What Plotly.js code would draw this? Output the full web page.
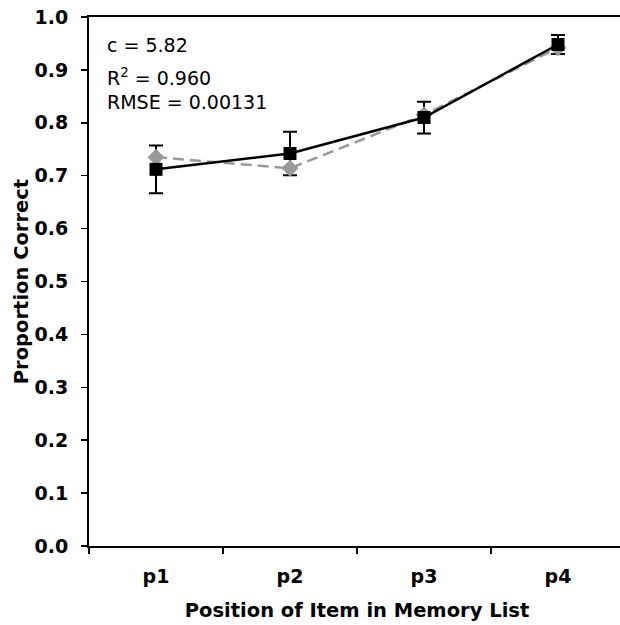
<!DOCTYPE html>
<html>
<head>
<meta charset="utf-8">
<script src="https://cdn.plot.ly/plotly-3.0.1.min.js"></script>
<style>
  html, body { margin: 0; padding: 0; overflow: hidden; background: #fff; }
  #chart { width: 640px; height: 625px; }
</style>
</head>
<body>
<div id="chart"></div>
<script>
// Serial position data: observed proportion correct (with error bars) and model fit
const positions = ['p1', 'p2', 'p3', 'p4'];
const observed = [0.712, 0.742, 0.810, 0.948];
const observedError = [0.045, 0.041, 0.030, 0.018];
const predicted = [0.735, 0.714, 0.815, 0.942];
const fitLines = ['c = 5.82', 'R<sup>2</sup> = 0.960', 'RMSE = 0.00131'];

const FONT = 'DejaVu Sans, Verdana, sans-serif';

const traces = [
  // error bars of the observed data, kept underneath the model markers
  {
    x: positions, y: observed, type: 'scatter', mode: 'markers',
    marker: { size: 1, opacity: 0 },
    error_y: { type: 'data', array: observedError, visible: true, color: '#000', thickness: 2, width: 7 },
    hoverinfo: 'skip', showlegend: false
  },
  // model prediction
  {
    x: positions, y: predicted, type: 'scatter', mode: 'lines+markers',
    line: { color: '#999999', width: 2.5, dash: '11px,6px' },
    marker: { symbol: 'diamond', size: 13, color: '#999999' },
    showlegend: false
  },
  // observed means
  {
    x: positions, y: observed, type: 'scatter', mode: 'lines+markers',
    line: { color: '#000', width: 2.5 },
    marker: { symbol: 'square', size: 13, color: '#000' },
    showlegend: false
  }
];

const annYs = [0.948, 0.887, 0.840];
const annotations = fitLines.map((t, i) => ({
  text: t, xref: 'paper', yref: 'paper', x: 0.029, y: annYs[i],
  xanchor: 'left', yanchor: 'middle', showarrow: false,
  font: { family: FONT, size: 19, color: '#000' }
}));

const layout = {
  width: 640, height: 625,
  margin: { l: 89, r: 15, t: 17, b: 79 },
  paper_bgcolor: '#fff', plot_bgcolor: '#fff',
  font: { family: FONT, color: '#000' },
  xaxis: {
    type: 'category', range: [-0.5, 3.5],
    showline: true, linecolor: '#000', linewidth: 2, mirror: true,
    ticks: 'outside', tickson: 'boundaries', ticklen: 6, tickwidth: 1.5, tickcolor: '#000',
    showgrid: false, zeroline: false,
    tickfont: { family: FONT, size: 19, color: '#000', weight: 'bold' },
    ticklabelstandoff: 12,
    title: { text: '<b>Position of Item in Memory List</b>', font: { family: FONT, size: 19.5, color: '#000' }, standoff: 18 }
  },
  yaxis: {
    range: [0, 1], dtick: 0.1, tickformat: '.1f',
    showline: true, linecolor: '#000', linewidth: 2, mirror: true,
    ticks: 'outside', ticklen: 6, tickwidth: 1.5, tickcolor: '#000',
    showgrid: false, zeroline: false,
    tickfont: { family: FONT, size: 19, color: '#000', weight: 'bold' },
    ticklabelstandoff: 9,
    title: { text: '<b>Proportion Correct</b>', font: { family: FONT, size: 19.5, color: '#000' } }
  },
  annotations: annotations
};

Plotly.newPlot('chart', traces, layout, { displayModeBar: false, staticPlot: true });
</script>
</body>
</html>
